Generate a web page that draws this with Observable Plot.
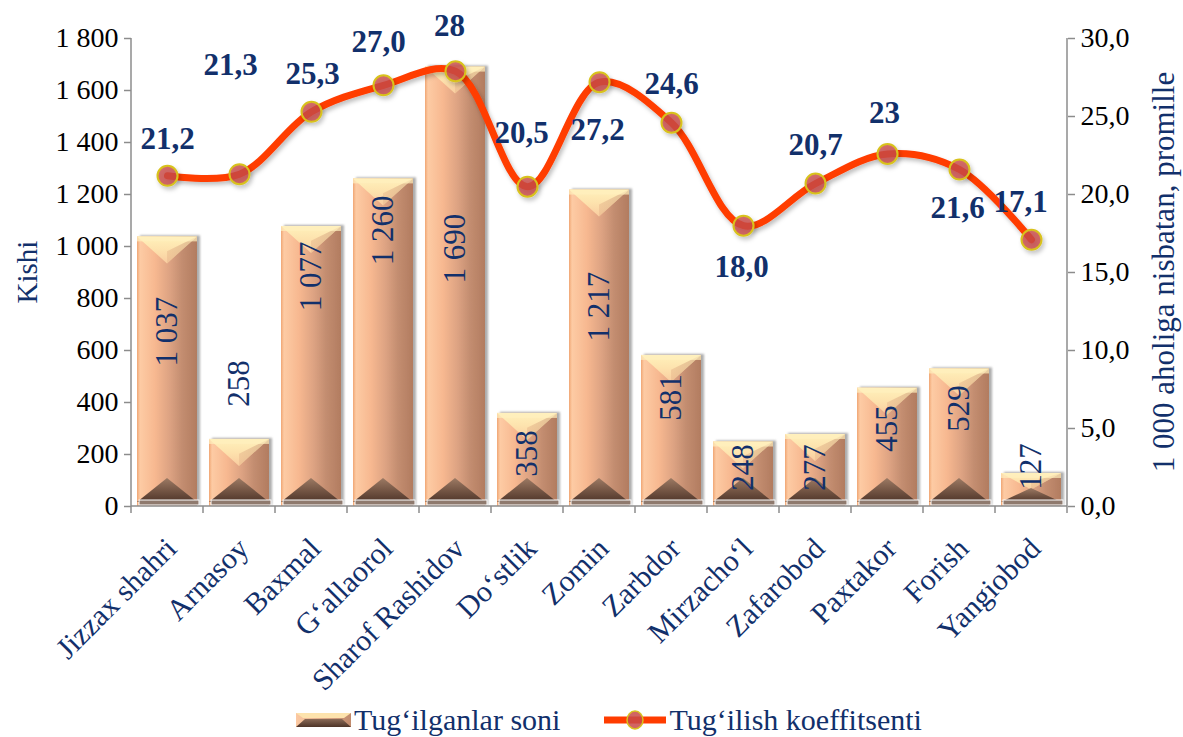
<!DOCTYPE html>
<html><head><meta charset="utf-8">
<script src="https://cdn.jsdelivr.net/npm/d3@7"></script>
<script src="https://cdn.jsdelivr.net/npm/@observablehq/plot@0.6"></script>
<style>
body{margin:0;background:#fff;overflow:hidden;font-family:"Liberation Serif","DejaVu Serif",serif;}
#legend{position:absolute;left:0;top:703px;height:34px;display:flex;align-items:center;padding-left:296px;font-size:30px;color:#12306b;line-height:34px;white-space:nowrap;}
#legend svg{display:block;}
#legend span{margin-left:3px;}
svg text{font-family:"Liberation Serif","DejaVu Serif",serif;}
</style></head><body>
<div id="chart"></div>
<div id="legend">
  <svg width="55" height="16" viewBox="0 0 55 16">
    <defs><linearGradient id="lgPeach" x1="0" x2="1" y1="0" y2="0"><stop offset="0" stop-color="#fcc9a2"/><stop offset="1" stop-color="#c08a6c"/></linearGradient>
    <linearGradient id="lgDark" x1="0" x2="0" y1="0" y2="1"><stop offset="0" stop-color="#8a6a57"/><stop offset="1" stop-color="#4e3428"/></linearGradient></defs>
    <rect x="0" y="1" width="55" height="14" fill="url(#lgPeach)"/>
    <polygon points="0,1 55,1 48,6 7,6" fill="#fde3ad"/>
    <polygon points="0,15 55,15 46,7 9,7" fill="url(#lgDark)"/>
  </svg><span>Tug‘ilganlar soni</span>
  <svg width="62" height="24" viewBox="0 0 62 24" style="margin-left:44px">
    <line x1="0" y1="12" x2="62" y2="12" stroke="#ff3c00" stroke-width="7"/>
    <ellipse cx="31" cy="12" rx="8" ry="9" fill="#c94a48" fill-opacity="0.85" stroke="#d8c21e" stroke-width="1.5"/>
  </svg><span>Tug‘ilish koeffitsenti</span>
</div>
<script>
// ---- data ----
const districts = ["Jizzax shahri","Arnasoy","Baxmal","G‘allaorol","Sharof Rashidov","Do‘stlik","Zomin","Zarbdor","Mirzacho‘l","Zafarobod","Paxtakor","Forish","Yangiobod"];
const births = [1037,258,1077,1260,1690,358,1217,581,248,277,455,529,127];
const rates = [21.2,21.3,25.3,27.0,27.9,20.5,27.2,24.6,18.0,20.7,22.6,21.6,17.1];
const rateLabels = ["21,2","21,3","25,3","27,0","28","20,5","27,2","24,6","18,0","20,7","23","21,6","17,1"];
const leftTicks = [0,200,400,600,800,1000,1200,1400,1600,1800];
const rightTicks = [0,5,10,15,20,25,30];
const leftTitle = "Kishi";
const rightTitle = "1 000 aholiga nisbatan, promille";

// ---- layout (label placement, not data) ----
const barLabelAt = [673,473,885,1062,992,204,769,419,150,150,300,377,154];
const rateLabelOffset = [[0,-37],[-9,-109],[1,-38],[-5,-43],[-6,-45],[-6,-54],[-2,48],[0,-39],[-2,41],[0,-39],[-3,-41],[-2,39],[-11,-38]];

const leftMax = leftTicks[leftTicks.length-1], rightMax = rightTicks[rightTicks.length-1];
const k = leftMax / rightMax;
const loc = d3.formatLocale({decimal:",", thousands:" ", grouping:[3], currency:["",""]});
const fmtInt = loc.format(",d");
const fmt1 = loc.format(".1f");
const navy = "#12306b";
const axisGrey = "#8c8c8c";
const serif = "Liberation Serif, DejaVu Serif, serif";

const data = districts.map((d,i)=>({d, births:births[i], rate:rates[i], label:rateLabels[i], labelAt:barLabelAt[i], i}));

const defsMark = () => {
  const defs = d3.create("svg:defs");
  const g = defs.append("linearGradient").attr("id","barGrad").attr("x1",0).attr("x2",1).attr("y1",0).attr("y2",0);
  [[0,"#f0a673"],[0.05,"#fdcba4"],[0.3,"#f7b890"],[0.55,"#dca282"],[0.75,"#c38d70"],[1,"#b27c60"]]
    .forEach(([o,c])=>g.append("stop").attr("offset",o).attr("stop-color",c));
  const t = defs.append("linearGradient").attr("id","capGrad").attr("x1",0).attr("x2",0).attr("y1",0).attr("y2",1);
  [[0,"#fff1bb"],[0.5,"#fde2ad"],[1,"#f9cc9f"]].forEach(([o,c])=>t.append("stop").attr("offset",o).attr("stop-color",c));
  const tr = defs.append("linearGradient").attr("id","capRight").attr("x1",0).attr("x2",1).attr("y1",0).attr("y2",0);
  [[0,"#e9bb8f"],[1,"#c99a78"]].forEach(([o,c])=>tr.append("stop").attr("offset",o).attr("stop-color",c));
  const b = defs.append("linearGradient").attr("id","baseGrad").attr("x1",0).attr("x2",0).attr("y1",0).attr("y2",1);
  [[0,"#9c7a64"],[0.5,"#765746"],[1,"#4f3529"]].forEach(([o,c])=>b.append("stop").attr("offset",o).attr("stop-color",c));
  const f = defs.append("filter").attr("id","barShadow").attr("x","-20%").attr("y","-5%").attr("width","140%").attr("height","110%");
  f.append("feDropShadow").attr("dx",3).attr("dy",-1).attr("stdDeviation",1.2).attr("flood-color","#8a8a8a").attr("flood-opacity",0.7);
  const f2 = defs.append("filter").attr("id","lineShadow").attr("x","-5%").attr("y","-20%").attr("width","110%").attr("height","140%");
  f2.append("feDropShadow").attr("dx",2).attr("dy",3).attr("stdDeviation",2).attr("flood-color","#000").attr("flood-opacity",0.25);
  return defs.node();
};

const rateLabelMarks = data.map((row,i)=>Plot.text([row],{
  x:"d", y:r=>r.rate*k, text:"label", dx:rateLabelOffset[i][0], dy:rateLabelOffset[i][1],
  fill:navy, fontSize:31, fontWeight:"bold", fontFamily:serif
}));

const plot = Plot.plot({
  width:1183, height:703,
  marginLeft:131, marginRight:116, marginTop:38, marginBottom:197,
  style:{fontFamily:serif, fontSize:"28px", background:"white", color:"#000", overflow:"visible"},
  x:{domain:districts, paddingInner:0.17, paddingOuter:0.085, axis:null, label:null},
  y:{domain:[0,leftMax], axis:null, label:null},
  marks:[
    defsMark,
    Plot.barY(data,{x:"d", y:"births", fill:"url(#barGrad)"}),
    Plot.line(data,{x:"d", y:r=>r.rate*k, stroke:"#ff3c00", strokeWidth:7, curve:"catmull-rom"}),
    Plot.dot(data,{x:"d", y:r=>r.rate*k, r:10, fill:"#c94a48", fillOpacity:0.8, stroke:"#d8c21e", strokeWidth:2}),
    Plot.text(data,{x:"d", y:"labelAt", text:r=>fmtInt(r.births), rotate:-90, fill:navy, fontSize:31, fontFamily:serif}),
    ...rateLabelMarks,
    Plot.axisY({anchor:"left", ticks:leftTicks, tickFormat:fmtInt, tickSize:7, tickPadding:6, label:null, fontSize:28, fontFamily:serif}),
    Plot.axisY({anchor:"right", ticks:rightTicks.map(t=>t*k), tickFormat:v=>fmt1(v/k), tickSize:7, tickPadding:6, label:null, fontSize:28, fontFamily:serif}),
    Plot.axisX({tickRotate:-45, tickSize:0, tickPadding:37, dx:4, label:null, fontSize:30, fontFamily:serif})
  ]
});
document.getElementById("chart").appendChild(plot);

// ---- post styling using the plot's own scales ----
const svg = d3.select(plot);
const xs = plot.scale("x"), ys = plot.scale("y");
const bw = xs.bandwidth, step = xs.step;
const [xr0, xr1] = xs.range;
const [yB, yT0] = ys.range;

svg.selectAll('g[aria-label="y-axis tick"]').attr("stroke", axisGrey).attr("stroke-width",1.5);
svg.selectAll('g[aria-label="y-axis tick label"]').attr("fill","#000");
svg.selectAll('g[aria-label="x-axis tick label"]').attr("fill",navy);

const barG = svg.select('g[aria-label="bar"]');
barG.attr("filter","url(#barShadow)");
svg.select('g[aria-label="line"]').attr("filter","url(#lineShadow)");
svg.select('g[aria-label="dot"]').attr("filter","url(#lineShadow)");

const ov = d3.create("svg:g").attr("aria-label","bar bevel");
barG.node().after(ov.node());
data.forEach(r=>{
  const x0 = xs.apply(r.d), x1 = x0 + bw, xc = x0 + bw/2;
  const yT = ys.apply(r.births);
  const h = yB - yT;
  const dTop = Math.min(bw*0.45, h/2), dBot = Math.min(bw*0.4, (h-5)/2);
  ov.append("polygon").attr("points",`${x0},${yT} ${x1},${yT} ${xc},${yT+dTop}`).attr("fill","url(#capGrad)");
  ov.append("polygon").attr("points",`${xc},${yT+dTop*0.55} ${x1},${yT} ${xc},${yT+dTop}`).attr("fill","url(#capRight)").attr("opacity",0.55);
  ov.append("rect").attr("x",x0).attr("y",yT).attr("width",bw).attr("height",Math.min(5,h/3)).attr("fill","#fff0bd").attr("opacity",0.7);
  ov.append("polygon").attr("points",`${x0},${yB-4} ${x1},${yB-4} ${xc},${yB-4-dBot}`).attr("fill","url(#baseGrad)");
  ov.append("rect").attr("x",x0+2).attr("y",yB-6).attr("width",bw).attr("height",5).attr("fill","#8f7a6e").attr("stroke","#fff").attr("stroke-width",1);
});

// axis lines and category boundary ticks
const ax = svg.append("g").attr("stroke",axisGrey).attr("stroke-width",1.5);
ax.append("line").attr("x1",xr0).attr("x2",xr1).attr("y1",yB).attr("y2",yB);
ax.append("line").attr("x1",xr0).attr("x2",xr0).attr("y1",yT0).attr("y2",yB);
ax.append("line").attr("x1",xr1).attr("x2",xr1).attr("y1",yT0).attr("y2",yB);
districts.concat([null]).forEach((d,i)=>{
  const xb = d === null ? xr1 : xs.apply(d) - (step-bw)/2;
  ax.append("line").attr("x1",xb).attr("x2",xb).attr("y1",yB).attr("y2",yB+7);
});

// axis titles
const midY = (yB+yT0)/2;
svg.append("text").attr("transform",`translate(${xr0-104},${midY}) rotate(-90)`).attr("text-anchor","middle")
  .attr("dominant-baseline","central").attr("fill",navy).attr("font-size",29).attr("font-family",serif).text(leftTitle);
svg.append("text").attr("transform",`translate(${xr1+96},${midY}) rotate(-90)`).attr("text-anchor","middle")
  .attr("dominant-baseline","central").attr("fill",navy).attr("font-size",31).attr("font-family",serif).text(rightTitle);
</script>
</body></html>
